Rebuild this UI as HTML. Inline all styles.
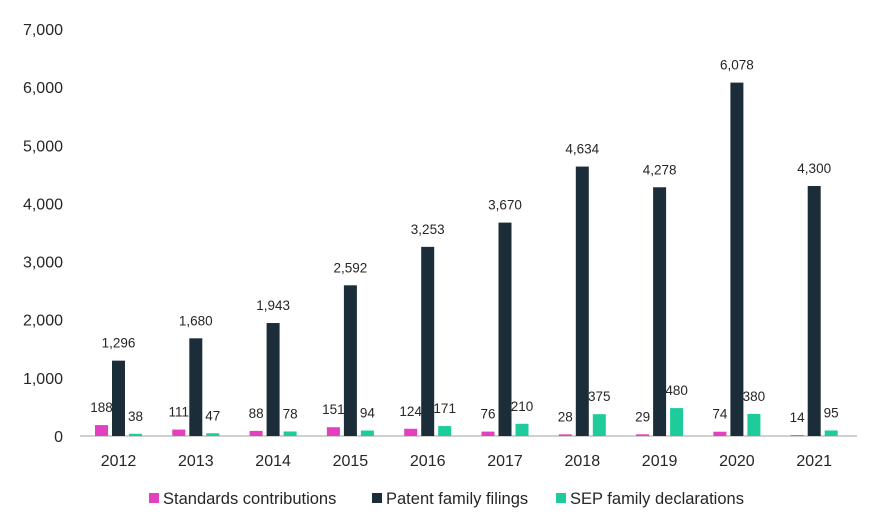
<!DOCTYPE html>
<html><head><meta charset="utf-8"><style>
html,body{margin:0;padding:0;background:#fff;width:880px;height:527px;overflow:hidden}
svg text{font-family:"Liberation Sans",sans-serif;fill:#262626}
</style></head><body>
<svg id="chart" width="880" height="527" xmlns="http://www.w3.org/2000/svg"></svg>
<script>
const categories=["2012","2013","2014","2015","2016","2017","2018","2019","2020","2021"];
const standards=[188,111,88,151,124,76,28,29,74,14];
const patents=[1296,1680,1943,2592,3253,3670,4634,4278,6078,4300];
const seps=[38,47,78,94,171,210,375,480,380,95];
const yTicks=[0,1000,2000,3000,4000,5000,6000,7000];
const seriesNames=["Standards contributions","Patent family filings","SEP family declarations"];
const colors=["#e43fbf","#1c2d3a","#1ecb9b"];
const svg=document.getElementById('chart');
const NS="http://www.w3.org/2000/svg";
function y(v){return 436-v*(407/7000);}
function x(i){return 118.5+i*77.3;}
function mk(t,a,p){const e=document.createElementNS(NS,t);for(const k in a)e.setAttribute(k,a[k]);(p||svg).appendChild(e);return e;}
yTicks.forEach(v=>{
 const t=mk('text',{x:63,y:y(v)+6,'text-anchor':'end','font-size':'16'});
 t.textContent=v.toLocaleString('en-US');
 
 
});
const ax=mk('line',{x1:80,x2:857,y1:436,y2:436,stroke:'#d0d0d0','stroke-width':2});


const series=[standards,patents,seps];
const offs=[-17,0,17];
categories.forEach((c,i)=>{
 const t=mk('text',{x:x(i),y:466,'text-anchor':'middle','font-size':'16'});
 t.textContent=c;
 
 
 series.forEach((s,k)=>{
  const v=s[i];const cx=x(i)+offs[k];
  const r=mk('rect',{x:cx-6.5,y:y(v),width:13,height:436-y(v),fill:colors[k]});
  
  
  const l=mk('text',{x:cx,y:y(v)-13,'text-anchor':'middle','font-size':'13.5'});
  l.textContent=v.toLocaleString('en-US');
  
  
 });
});
const lx=[149,372,556];
seriesNames.forEach((n,k)=>{
 const r=mk('rect',{x:lx[k],y:493,width:10,height:10,fill:colors[k]});
 
 
 const t=mk('text',{x:lx[k]+14,y:504,'font-size':'16.5'});
 t.textContent=n;
 
 
});
</script>
</body></html>
